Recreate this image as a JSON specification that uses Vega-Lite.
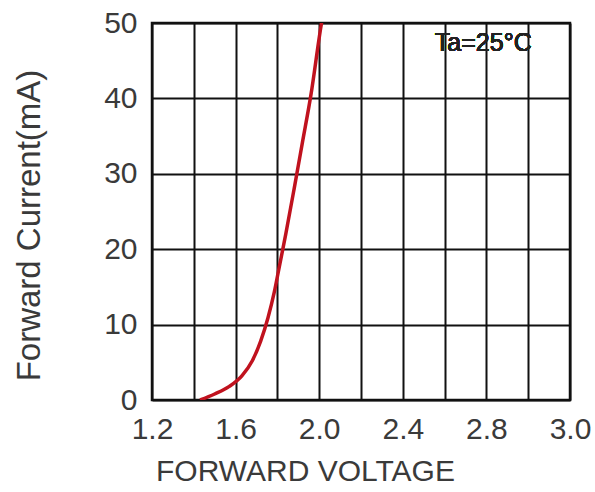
{
  "$schema": "https://vega.github.io/schema/vega-lite/v6.json",
  "autosize": "none",
  "width": 418,
  "height": 377,
  "padding": {"left": 152, "top": 23, "right": 25, "bottom": 92},
  "background": "white",
  "config": {
    "view": {"stroke": "#111", "strokeWidth": 2.5},
    "axis": {"labelFont": "Liberation Sans", "titleFont": "Liberation Sans", "labelColor": "#3a3a3a", "titleColor": "#3a3a3a", "titleFontWeight": "normal"}
  },
  "data": {"values": [
    {"v": 1.43, "i": 0},
    {"v": 1.5, "i": 0.8},
    {"v": 1.57, "i": 1.8},
    {"v": 1.63, "i": 3.2},
    {"v": 1.68, "i": 5.2},
    {"v": 1.72, "i": 7.8},
    {"v": 1.755, "i": 10.9},
    {"v": 1.785, "i": 14.3},
    {"v": 1.81, "i": 17.8},
    {"v": 1.84, "i": 22.0},
    {"v": 1.88, "i": 28.0},
    {"v": 1.92, "i": 34.2},
    {"v": 1.96, "i": 40.4},
    {"v": 2.01, "i": 49.8},
    {"v": 2.015, "i": 50.6}
  ]},
  "layer": [
    {
      "mark": {"type": "line", "color": "#c0121e", "strokeWidth": 3.5, "interpolate": "monotone", "clip": true},
      "encoding": {
        "x": {"field": "v", "type": "quantitative",
          "scale": {"domain": [1.2, 3.2], "nice": false, "zero": false},
          "axis": {
            "values": [1.2, 1.4, 1.6, 1.8, 2.0, 2.2, 2.4, 2.6, 2.8, 3.0, 3.2],
            "labelExpr": "round(datum.value*10) % 4 == 0 ? (datum.value > 3.1 ? '3.0' : format(datum.value, '.1f')) : ''",
            "grid": true, "gridColor": "#111", "gridWidth": 2, "gridOpacity": 1,
            "ticks": false, "domain": false,
            "labelFontSize": 30, "labelPadding": 14, "labelDx": -6, "labelFlush": false, "labelOverlap": false,
            "title": "FORWARD VOLTAGE", "titleFontSize": 30, "titleX": 153, "titleY": 71, "titleBaseline": "middle", "titleAnchor": "middle"
          }},
        "y": {"field": "i", "type": "quantitative",
          "scale": {"domain": [0, 50], "nice": false},
          "axis": {
            "values": [0, 5, 10, 15, 20, 25, 30, 35, 40, 45, 50],
            "labelExpr": "datum.value % 10 == 0 ? datum.label : ''",
            "grid": true, "gridColor": "#111", "gridWidth": 2, "gridOpacity": 1,
            "ticks": false, "domain": false,
            "labelFontSize": 30, "labelPadding": 15, "labelFlush": false, "labelOverlap": false, "labelBaseline": "middle",
            "title": "Forward Current(mA)", "titleFontSize": 33, "titleX": -123, "titleY": 202, "titleBaseline": "middle", "titleAngle": -90
          }}
      }
    },
    {
      "mark": {"type": "text", "font": "Liberation Sans", "fontSize": 25, "color": "#222", "align": "center", "baseline": "middle"},
      "encoding": {
        "x": {"datum": 2.785, "type": "quantitative"},
        "y": {"datum": 47.3, "type": "quantitative"},
        "text": {"value": "Ta=25°C"}
      }
    }
  ]
}
